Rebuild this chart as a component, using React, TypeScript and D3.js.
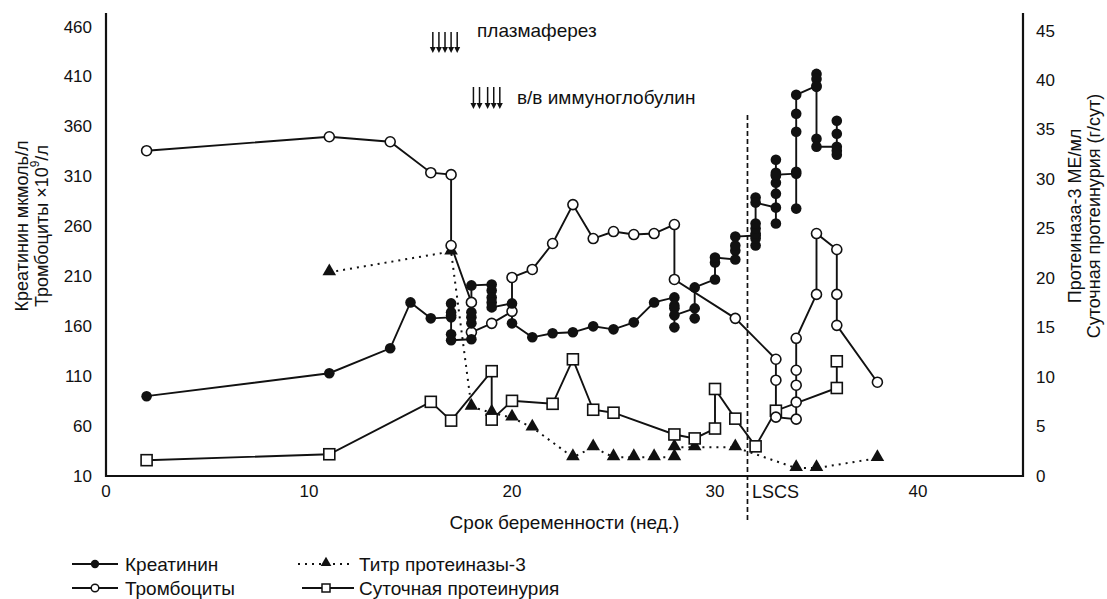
import React from 'react'
import * as d3 from 'd3'

const width = 1107;
const height = 599;
const font = '"Liberation Sans", Arial, sans-serif';

// Креатинин (мкмоль/л), в порядке линии: [неделя, значение]
const creatinine: [number, number][] = [
  [2, 90], [11, 113], [14, 138], [15, 184], [16, 168],
  [17, 169], [17, 183], [17, 174], [17, 171], [17, 152], [17, 146],
  [18, 147], [18, 163], [18, 169], [18, 174], [18, 201],
  [19, 202], [19, 196], [19, 189], [19, 184], [19, 179],
  [20, 183], [20, 163],
  [21, 149], [22, 153], [23, 154], [24, 160], [25, 157], [26, 164], [27, 184],
  [28, 189], [28, 181], [28, 178], [28, 159], [28, 171],
  [29, 178], [29, 168], [29, 199],
  [30, 207], [30, 224], [30, 229],
  [31, 227], [31, 236], [31, 241], [31, 250],
  [32, 251], [32, 241], [32, 248], [32, 253], [32, 258], [32, 263], [32, 289], [32, 284],
  [33, 279], [33, 263], [33, 293], [33, 304], [33, 311], [33, 314], [33, 327], [33, 312],
  [34, 313], [34, 278], [34, 315], [34, 355], [34, 373], [34, 392],
  [35, 401], [35, 413], [35, 408], [35, 400], [35, 348], [35, 340],
  [36, 340], [36, 332], [36, 336], [36, 353], [36, 366],
];

// Тромбоциты (×10⁹/л)
const platelets: [number, number][] = [
  [2, 336], [11, 350], [14, 345], [16, 314], [17, 312], [17, 241],
  [18, 184], [18, 154], [19, 163], [20, 175], [20, 209], [21, 217], [22, 243],
  [23, 282], [24, 248], [25, 255], [26, 252], [27, 253], [28, 262], [28, 207],
  [31, 168], [33, 127], [33, 106], [33, 69], [34, 67], [34, 84], [34, 101],
  [34, 116], [34, 148], [35, 192], [35, 253], [36, 237], [36, 192], [36, 161], [38, 104],
];

// Титр протеиназы-3 (МЕ/мл), правая ось
const titer: [number, number][] = [
  [11, 20.6], [17, 22.7], [18, 7.0], [19, 6.4], [20, 5.9], [21, 4.9], [23, 1.9],
  [24, 2.9], [25, 1.9], [26, 1.9], [27, 1.9], [28, 1.9], [28, 2.9], [29, 2.9],
  [31, 2.9], [34, 0.8], [35, 0.8], [38, 1.8],
];

// Суточная протеинурия (г/сут), правая ось
const proteinuria: [number, number][] = [
  [2, 1.6], [11, 2.2], [16, 7.5], [17, 5.6], [19, 10.6], [19, 5.7], [20, 7.6],
  [22, 7.3], [23, 11.8], [24, 6.7], [25, 6.4], [28, 4.2], [29, 3.8], [30, 4.8],
  [30, 8.8], [31, 5.8], [32, 3.0], [33, 6.6], [36, 8.9], [36, 11.6],
];

const xTicks = [0, 10, 20, 30, 40];
const leftTicks = [10, 60, 110, 160, 210, 260, 310, 360, 410, 460];
const rightTicks = [0, 5, 10, 15, 20, 25, 30, 35, 40, 45];

const plasmaWeeks = [16.1, 16.4, 16.7, 17.0, 17.3];
const ivigWeeks = [18.1, 18.4, 18.8, 19.1, 19.4];
const lscsWeek = 31.6;

const x = d3.scaleLinear().domain([0, 45]).range([106, 1019.5]);
const yL = d3.scaleLinear().domain([10, 460]).range([476, 27]);
const yR = d3.scaleLinear().domain([0, 45]).range([476, 31]);

const lineL = d3.line<[number, number]>().x(d => x(d[0])).y(d => yL(d[1]));
const lineR = d3.line<[number, number]>().x(d => x(d[0])).y(d => yR(d[1]));
const tri = d3.symbol().type(d3.symbolTriangle).size(80)();

function Arrows({ weeks, top, bottom }: { weeks: number[], top: number, bottom: number }) {
  return (
    <g>
      {weeks.map((w, i) => (
        <g key={i}>
          <line x1={x(w)} x2={x(w)} y1={top} y2={bottom - 4} stroke="#111" strokeWidth={1.5} />
          <path d={`M${x(w) - 3},${bottom - 6} L${x(w) + 3},${bottom - 6} L${x(w)},${bottom} Z`} fill="#111" />
        </g>
      ))}
    </g>
  );
}

export default function App() {
  const axisY = 476;
  const rightX = 1023;
  const sw = 1.9;
  return (
    <svg width={width} height={height} style={{ position: 'fixed', top: 0, left: 0, background: '#fff' }}
      fontFamily={font} fontSize={17} fill="#111">
      {/* оси */}
      <line x1={106} x2={106} y1={13} y2={axisY + 1} stroke="#111" strokeWidth={2.2} />
      <line x1={rightX} x2={rightX} y1={13} y2={axisY + 1} stroke="#111" strokeWidth={2.2} />
      <line x1={105} x2={rightX + 1} y1={axisY} y2={axisY} stroke="#111" strokeWidth={2.2} />

      {leftTicks.map(t => (
        <text key={t} x={92} y={yL(t)} textAnchor="end" dominantBaseline="central">{t}</text>
      ))}
      {rightTicks.map(t => (
        <text key={t} x={1036} y={yR(t)} dominantBaseline="central">{t}</text>
      ))}
      {xTicks.map(t => (
        <text key={t} x={x(t)} y={497} textAnchor="middle">{t}</text>
      ))}

      <text x={(106 + rightX) / 2} y={529} textAnchor="middle" fontSize={19}>Срок беременности (нед.)</text>
      <g fontSize={18}>
        <text transform="translate(22,226) rotate(-90)" textAnchor="middle" dominantBaseline="central">Креатинин мкмоль/л</text>
        <text transform="translate(42,226) rotate(-90)" textAnchor="middle" dominantBaseline="central">
          Тромбоциты ×10<tspan fontSize={12} dy={-7}>9</tspan><tspan dy={7}>/л</tspan>
        </text>
        <text transform="translate(1075,216) rotate(-90)" textAnchor="middle" dominantBaseline="central">Протеиназа-3 МЕ/мл</text>
        <text transform="translate(1094,216) rotate(-90)" textAnchor="middle" dominantBaseline="central">Суточная протеинурия (г/сут)</text>
      </g>

      {/* аннотации */}
      <Arrows weeks={plasmaWeeks} top={32} bottom={53} />
      <text x={477} y={37} fontSize={19}>плазмаферез</text>
      <Arrows weeks={ivigWeeks} top={87} bottom={109} />
      <text x={517} y={104} fontSize={19}>в/в иммуноглобулин</text>

      <line x1={x(lscsWeek)} x2={x(lscsWeek)} y1={115} y2={521} stroke="#111" strokeWidth={1.7} strokeDasharray="5,3" />
      <text x={752} y={498} fontSize={18}>LSCS</text>

      {/* линии */}
      <path d={lineR(titer) || ''} fill="none" stroke="#111" strokeWidth={2} strokeDasharray="2,5" />
      <path d={lineR(proteinuria) || ''} fill="none" stroke="#111" strokeWidth={sw} />
      <path d={lineL(platelets) || ''} fill="none" stroke="#111" strokeWidth={sw} />
      <path d={lineL(creatinine) || ''} fill="none" stroke="#111" strokeWidth={sw} />

      {/* маркеры */}
      {titer.map((d, i) => (
        <path key={i} d={tri || ''} transform={`translate(${x(d[0])},${yR(d[1]) - 1})`} fill="#111" />
      ))}
      {proteinuria.map((d, i) => (
        <rect key={i} x={x(d[0]) - 5.5} y={yR(d[1]) - 5.5} width={11} height={11} fill="#fff" stroke="#111" strokeWidth={1.6} />
      ))}
      {platelets.map((d, i) => (
        <circle key={i} cx={x(d[0])} cy={yL(d[1])} r={5} fill="#fff" stroke="#111" strokeWidth={1.6} />
      ))}
      {creatinine.map((d, i) => (
        <circle key={i} cx={x(d[0])} cy={yL(d[1])} r={5.3} fill="#111" />
      ))}

      {/* легенда */}
      <g fontSize={19}>
        <line x1={72} x2={118} y1={564} y2={564} stroke="#111" strokeWidth={1.8} />
        <circle cx={95} cy={564} r={4.2} fill="#111" />
        <text x={125} y={564} dominantBaseline="central">Креатинин</text>
        <line x1={72} x2={118} y1={588} y2={588} stroke="#111" strokeWidth={1.8} />
        <circle cx={95} cy={588} r={3.8} fill="#fff" stroke="#111" strokeWidth={1.5} />
        <text x={125} y={588} dominantBaseline="central">Тромбоциты</text>
        <line x1={298} x2={354} y1={564} y2={564} stroke="#111" strokeWidth={2} strokeDasharray="2,5" />
        <path d={d3.symbol().type(d3.symbolTriangle).size(50)() || ''} transform="translate(326,563)" fill="#111" />
        <text x={359} y={564} dominantBaseline="central">Титр протеиназы-3</text>
        <line x1={302} x2={354} y1={588} y2={588} stroke="#111" strokeWidth={1.8} />
        <rect x={322} y={584} width={8} height={8} fill="#fff" stroke="#111" strokeWidth={1.5} />
        <text x={359} y={588} dominantBaseline="central">Суточная протеинурия</text>
      </g>
    </svg>
  );
}
